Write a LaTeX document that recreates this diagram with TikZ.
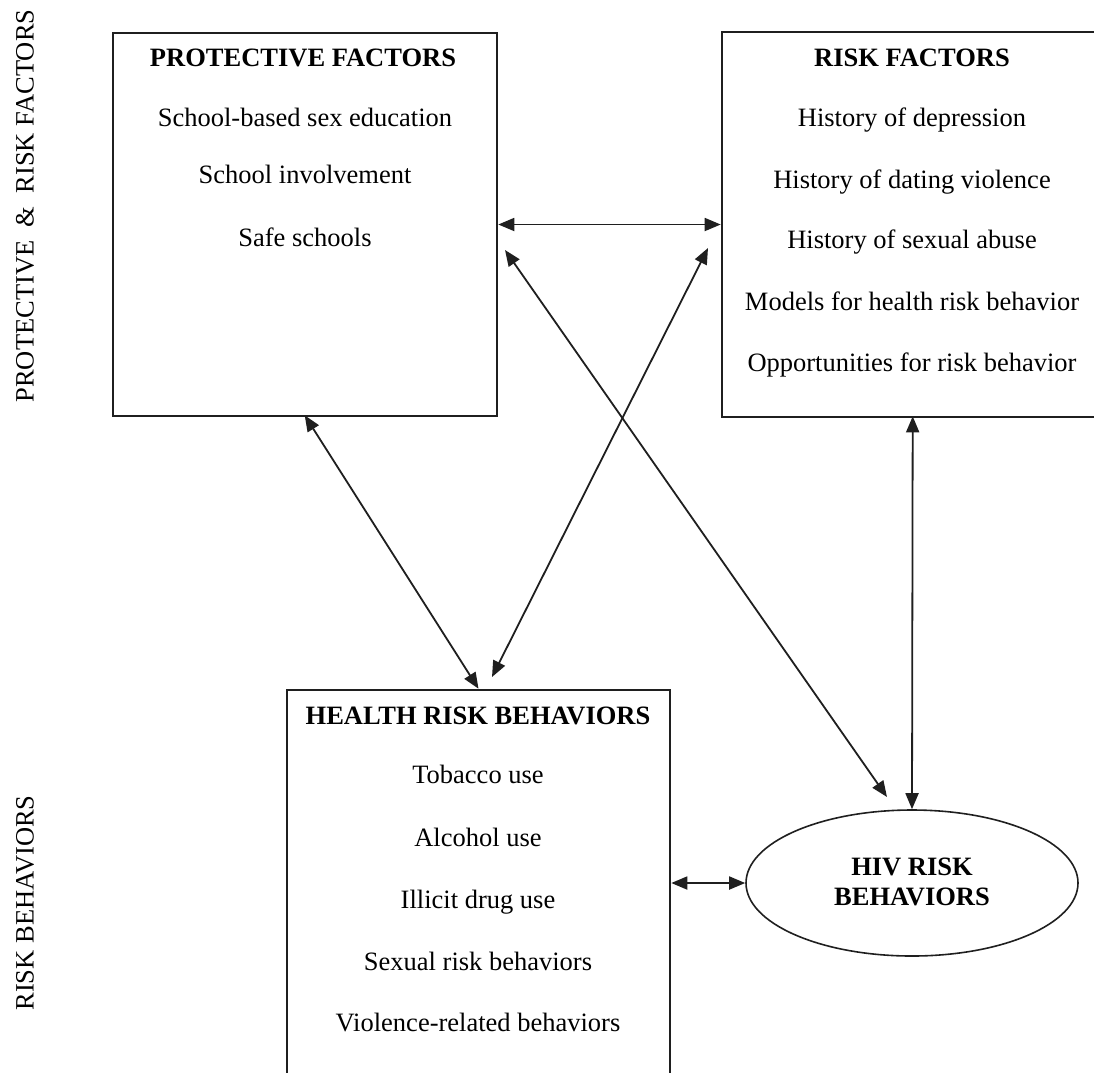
\documentclass[tikz,border=0pt]{standalone}
\usepackage{fontspec}
\setmainfont{Liberation Serif}
\usetikzlibrary{arrows.meta,shapes.geometric,calc}
\begin{document}
\begin{tikzpicture}[x=1pt,y=-1pt,
  box/.style={draw=black!88, line width=2.6pt, inner sep=0pt},
  oval/.style={draw=black!88, ellipse, line width=1.6pt, inner sep=0pt},
  title/.style={font=\fontsize{26.5}{30}\selectfont\bfseries, inner sep=0pt, anchor=base},
  item/.style={font=\fontsize{26.5}{30}\selectfont, inner sep=0pt, anchor=base},
  side/.style={font=\fontsize{26.5}{30}\selectfont, inner sep=0pt, rotate=90},
  link/.style={draw=black!88, line width=1.8pt, {Triangle[length=16pt,width=13pt]}-{Triangle[length=16pt,width=13pt]}}]
  \useasboundingbox (0,0) rectangle (1094,1072);
  \clip (0,0) rectangle (1094,1072);

  % side labels
  \node[side] (lblA) at (25,206) {PROTECTIVE \ \& \ RISK FACTORS};
  \node[side] (lblB) at (25,903) {RISK BEHAVIORS};

  % boxes
  \node[box, minimum width=384pt, minimum height=383pt] (prot) at (305,224.5) {};
  \node[box, minimum width=390pt, minimum height=385pt] (risk) at (917,224.5) {};
  \node[box, minimum width=383pt, minimum height=420pt] (health) at (478.5,900) {};
  \node[oval, minimum width=332pt, minimum height=146pt] (hiv) at (912,883) {};

  % protective factors
  \node[title] (pt) at (303,66) {PROTECTIVE FACTORS};
  \node[item] (p1) at (305,126) {School-based sex education};
  \node[item] (p2) at (305,183) {School involvement};
  \node[item] (p3) at (305,246) {Safe schools};

  % risk factors
  \node[title] (rt) at (912,66) {RISK FACTORS};
  \node[item] (r1) at (912,126) {History of depression};
  \node[item] (r2) at (912,188) {History of dating violence};
  \node[item] (r3) at (912,248) {History of sexual abuse};
  \node[item] (r4) at (912,310) {Models for health risk behavior};
  \node[item] (r5) at (912,371) {Opportunities for risk behavior};

  % health risk behaviors
  \node[title] (ht) at (478,724) {HEALTH RISK BEHAVIORS};
  \node[item] (h1) at (478,783) {Tobacco use};
  \node[item] (h2) at (478,846) {Alcohol use};
  \node[item] (h3) at (478,908) {Illicit drug use};
  \node[item] (h4) at (478,970) {Sexual risk behaviors};
  \node[item] (h5) at (478,1031) {Violence-related behaviors};

  % HIV risk behaviors
  \node[title] (v1) at (912,875) {HIV RISK};
  \node[title] (v2) at (912,905) {BEHAVIORS};

  % connector end points
  \coordinate (pS) at ($(prot.south west)+(193,-2)$);
  \coordinate (rA) at (708,248);
  \coordinate (hA) at (492,677);
  \coordinate (pA) at (505,250);
  \coordinate (vA) at (887,797);
  \coordinate (rS) at ($(risk.south west)+(192,-2)$);

  % connectors
  \draw[link] (prot.east) -- (risk.west);
  \draw[link] (pS) -- (health.north);
  \draw[link] (rA) -- (hA);
  \draw[link] (pA) -- (vA);
  \draw[link] (rS) -- (hiv.north);
  \draw[link] (health.east |- hiv.west) -- (hiv.west);
\end{tikzpicture}
\end{document}
